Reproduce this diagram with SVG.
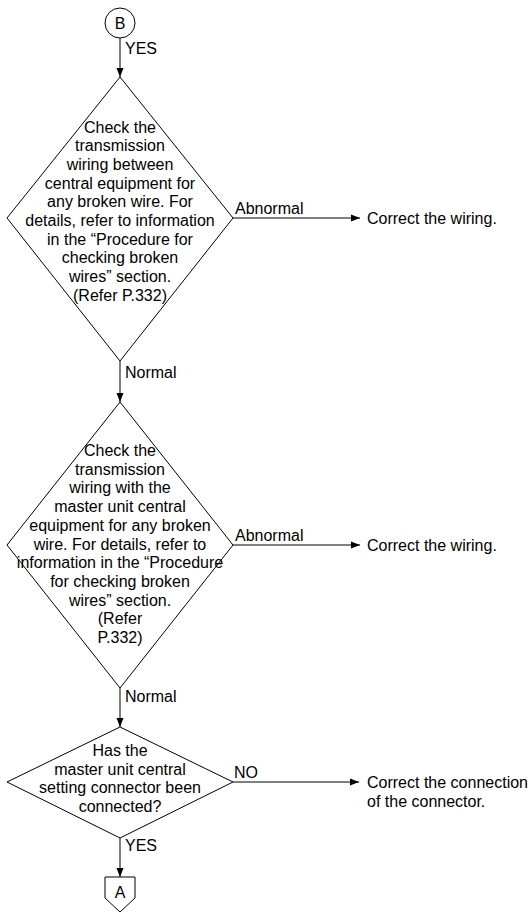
<svg xmlns="http://www.w3.org/2000/svg" width="530" height="913" viewBox="0 0 530 913">
<defs>
<style>
text{font-family:"Liberation Sans",Arial,sans-serif;font-size:16px;fill:#000}
.c{text-anchor:middle}
.shape{fill:#fff;stroke:#000;stroke-width:1}
.line{fill:none;stroke:#000;stroke-width:1}
</style>
<marker id="ah" markerWidth="10" markerHeight="8" refX="9" refY="4" orient="auto" markerUnits="userSpaceOnUse">
<path d="M0,0.5 L9,4 L0,7.5 Z" fill="#000"/>
</marker>
</defs>
<rect width="530" height="913" fill="#fff"/>
<g id="connectors">
<line class="line" x1="120" y1="38" x2="120" y2="77" marker-end="url(#ah)"/>
<text x="125" y="54">YES</text>
<line class="line" x1="233" y1="218" x2="360" y2="218" marker-end="url(#ah)"/>
<text x="235" y="214">Abnormal</text>
<line class="line" x1="120" y1="361" x2="120" y2="402" marker-end="url(#ah)"/>
<text x="125" y="378">Normal</text>
<line class="line" x1="233" y1="545" x2="360" y2="545" marker-end="url(#ah)"/>
<text x="235" y="541">Abnormal</text>
<line class="line" x1="120" y1="688" x2="120" y2="727" marker-end="url(#ah)"/>
<text x="125" y="702">Normal</text>
<line class="line" x1="233" y1="782" x2="359" y2="782" marker-end="url(#ah)"/>
<text x="234" y="778">NO</text>
<line class="line" x1="120" y1="838" x2="120" y2="877" marker-end="url(#ah)"/>
<text x="125" y="851">YES</text>
</g>
<g id="startB">
<circle class="shape" cx="120" cy="23" r="15"/>
<text class="c" x="120" y="29">B</text>
</g>
<g id="check1">
<polygon class="shape" points="120,77 233,218 120,361 7,218"/>
<text class="c" x="120" y="132.5">Check the</text>
<text class="c" x="120" y="151.2">transmission</text>
<text class="c" x="120" y="169.9">wiring between</text>
<text class="c" x="120" y="188.6">central equipment for</text>
<text class="c" x="120" y="207.3">any broken wire. For</text>
<text class="c" x="120" y="226">details, refer to information</text>
<text class="c" x="120" y="244.7">in the “Procedure for</text>
<text class="c" x="120" y="263.4">checking broken</text>
<text class="c" x="120" y="282.1">wires” section.</text>
<text class="c" x="120" y="300.8">(Refer P.332)</text>
</g>
<g id="fix1">
<text x="367" y="224">Correct the wiring.</text>
</g>
<g id="check2">
<polygon class="shape" points="120,402 233,545 120,688 7,545"/>
<text class="c" x="120" y="456">Check the</text>
<text class="c" x="120" y="474.7">transmission</text>
<text class="c" x="120" y="493.4">wiring with the</text>
<text class="c" x="120" y="512.1">master unit central</text>
<text class="c" x="120" y="530.8">equipment for any broken</text>
<text class="c" x="120" y="549.5">wire. For details, refer to</text>
<text class="c" x="120" y="568.2">information in the “Procedure</text>
<text class="c" x="120" y="586.9">for checking broken</text>
<text class="c" x="120" y="605.6">wires” section.</text>
<text class="c" x="120" y="624.3">(Refer</text>
<text class="c" x="120" y="643">P.332)</text>
</g>
<g id="fix2">
<text x="367" y="551">Correct the wiring.</text>
</g>
<g id="check3">
<polygon class="shape" points="120,727 233,782 120,838 7,782"/>
<text class="c" x="120" y="756">Has the</text>
<text class="c" x="120" y="774.7">master unit central</text>
<text class="c" x="120" y="793.4">setting connector been</text>
<text class="c" x="120" y="812.1">connected?</text>
</g>
<g id="fix3">
<text x="367" y="788">Correct the connection</text>
<text x="367" y="807">of the connector.</text>
</g>
<g id="endA">
<polygon class="shape" points="105,877 135,877 135,898 120,912 105,898"/>
<text class="c" x="120" y="898">A</text>
</g>
</svg>
